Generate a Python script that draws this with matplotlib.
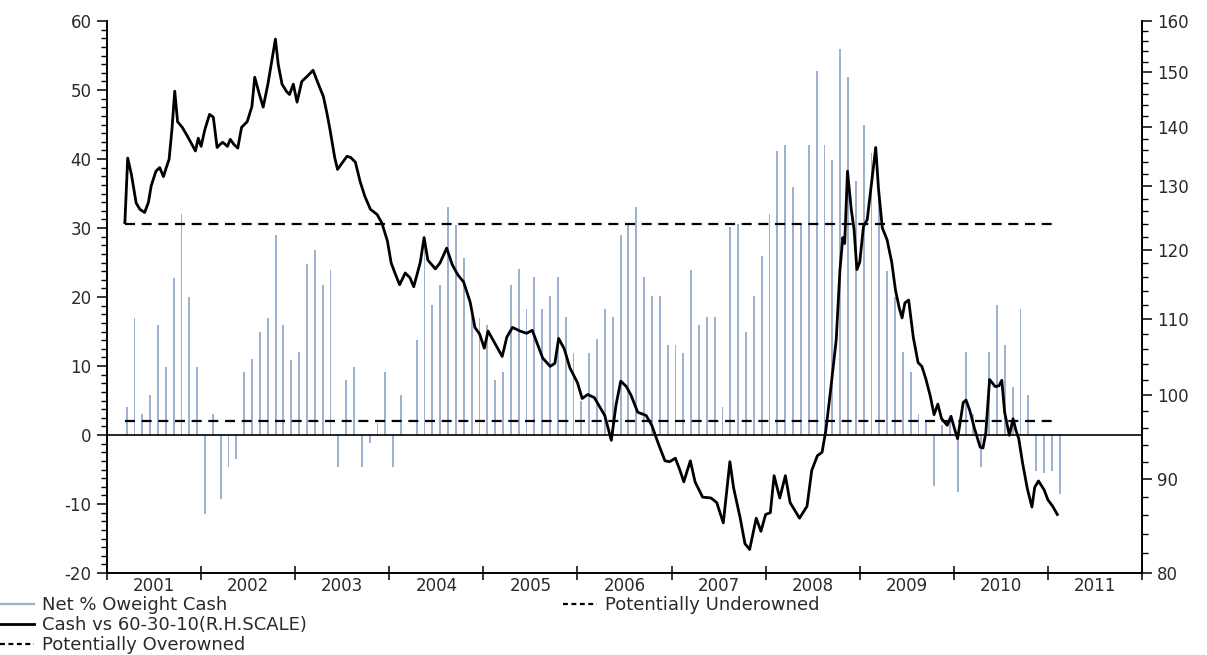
import matplotlib.pyplot as plt
import numpy as np
from matplotlib.lines import Line2D
from matplotlib.ticker import FixedLocator, FixedFormatter, NullFormatter, MultipleLocator

plt.rcParams['axes.unicode_minus'] = False

# Net % overweight cash, monthly from Mar 2001 to Feb 2011 (left scale)
owt_cash = [4.0, 16.9, 3.0, 5.8, 16.0, 9.9, 22.8, 32.0, 20.0, 9.9,
            -11.5, 3.0, -9.3, -4.6, -3.5, 9.2, 11.0, 15.0, 17.0, 29.0,
            16.0, 10.8, 12.0, 24.8, 26.8, 21.8, 23.9, -4.6, 8.0, 9.9,
            -4.6, -1.2, 1.7, 9.2, -4.6, 5.8, 0.0, 13.8, 28.6, 18.9,
            21.8, 33.0, 30.5, 25.7, 17.2, 17.0, 15.9, 8.0, 9.2, 21.8,
            24.0, 18.2, 22.9, 18.2, 20.1, 22.9, 17.1, 11.9, 5.0, 11.9,
            13.9, 18.2, 17.1, 29.0, 30.6, 33.0, 22.9, 20.1, 20.1, 13.1,
            13.1, 11.9, 23.9, 16.0, 17.1, 17.1, 4.1, 30.2, 30.6, 15.0,
            20.1, 25.9, 32.0, 41.1, 42.0, 36.0, 30.6, 42.0, 52.8, 42.0,
            39.8, 56.0, 51.9, 36.8, 44.9, 40.8, 34.0, 23.8, 20.0, 12.0,
            9.2, 3.0, 2.0, -7.4, 1.5, 2.0, -8.3, 12.0, 3.0, -4.6,
            12.0, 18.9, 13.1, 7.0, 18.2, 5.8, -5.2, -5.5, -5.2, -8.5]

# Cash vs 60-30-10 (right scale), decimal year / index value
cash_t = [2001.19, 2001.22, 2001.26, 2001.31, 2001.35, 2001.40, 2001.44, 2001.47, 2001.52, 2001.56,
          2001.60, 2001.63, 2001.66, 2001.69, 2001.72, 2001.75, 2001.80, 2001.85, 2001.89, 2001.94,
          2001.97, 2002.00, 2002.04, 2002.09, 2002.13, 2002.17, 2002.20, 2002.23, 2002.28, 2002.31,
          2002.35, 2002.39, 2002.43, 2002.49, 2002.54, 2002.57, 2002.62, 2002.66, 2002.71, 2002.75,
          2002.79, 2002.82, 2002.86, 2002.91, 2002.94, 2002.98, 2003.02, 2003.07, 2003.13, 2003.19,
          2003.24, 2003.30, 2003.34, 2003.37, 2003.42, 2003.45, 2003.51, 2003.55, 2003.59, 2003.64,
          2003.69, 2003.74, 2003.80, 2003.87, 2003.92, 2003.98, 2004.02, 2004.06, 2004.11, 2004.17,
          2004.22, 2004.26, 2004.33, 2004.37, 2004.41, 2004.49, 2004.54, 2004.61, 2004.67, 2004.73,
          2004.79, 2004.86, 2004.91, 2004.96, 2005.01, 2005.05, 2005.12, 2005.20, 2005.25, 2005.31,
          2005.39, 2005.46, 2005.52, 2005.57, 2005.63, 2005.71, 2005.76, 2005.80, 2005.86, 2005.92,
          2006.00, 2006.05, 2006.11, 2006.18, 2006.24, 2006.29, 2006.36, 2006.41, 2006.46, 2006.52,
          2006.57, 2006.64, 2006.73, 2006.79, 2006.86, 2006.93, 2006.98, 2007.04, 2007.09, 2007.13,
          2007.20, 2007.25, 2007.33, 2007.42, 2007.48, 2007.55, 2007.62, 2007.66, 2007.73, 2007.78,
          2007.83, 2007.90, 2007.95, 2008.00, 2008.05, 2008.09, 2008.15, 2008.21, 2008.26, 2008.36,
          2008.44, 2008.49, 2008.55, 2008.60, 2008.64, 2008.69, 2008.75, 2008.79, 2008.82, 2008.84,
          2008.87, 2008.91, 2008.94, 2008.97, 2009.00, 2009.04, 2009.08, 2009.13, 2009.17, 2009.20,
          2009.24, 2009.29, 2009.34, 2009.38, 2009.42, 2009.45, 2009.48, 2009.52, 2009.57, 2009.62,
          2009.66, 2009.70, 2009.75, 2009.79, 2009.83, 2009.87, 2009.93, 2009.97, 2010.02, 2010.04,
          2010.10, 2010.13, 2010.17, 2010.22, 2010.28, 2010.31, 2010.34, 2010.38, 2010.44, 2010.48,
          2010.51, 2010.54, 2010.59, 2010.63, 2010.66, 2010.69, 2010.73, 2010.78, 2010.83, 2010.86,
          2010.90, 2010.96, 2011.00, 2011.05, 2011.10]
cash_idx = [124.2, 134.7, 131.9, 127.3, 126.3, 125.8, 127.4, 130.1, 132.5, 133.1,
            131.6, 133.1, 134.5, 139.6, 146.5, 141.0, 140.0, 138.6, 137.4, 135.9,
            138.1, 136.7, 139.6, 142.3, 141.8, 136.5, 137.0, 137.4, 136.7, 137.9,
            137.0, 136.4, 140.0, 141.0, 143.7, 149.1, 145.9, 143.6, 147.8, 152.1,
            156.4, 151.5, 147.8, 146.4, 145.9, 147.8, 144.5, 148.3, 149.3, 150.4,
            148.1, 145.5, 142.3, 139.6, 134.8, 132.8, 134.1, 135.0, 134.8, 134.0,
            130.8, 128.4, 126.3, 125.5, 124.2, 121.4, 118.1, 116.6, 114.9, 116.6,
            115.9, 114.6, 118.2, 121.9, 118.5, 117.2, 118.1, 120.3, 117.8, 116.3,
            115.3, 112.4, 108.9, 108.0, 106.1, 108.4, 106.8, 105.0, 107.6, 108.9,
            108.4, 108.1, 108.5, 106.8, 104.8, 103.7, 104.1, 107.4, 106.0, 103.5,
            101.6, 99.6, 100.1, 99.7, 98.5, 97.5, 94.5, 98.8, 101.8, 101.1,
            100.0, 97.9, 97.5, 96.3, 94.1, 92.1, 92.0, 92.4, 91.0, 89.7,
            92.1, 89.7, 88.0, 87.9, 87.4, 85.2, 92.0, 89.0, 85.7, 83.0,
            82.4, 85.7, 84.3, 86.1, 86.3, 90.4, 87.9, 90.4, 87.4, 85.7,
            87.0, 91.0, 92.7, 93.1, 95.7, 100.6, 107.2, 117.1, 121.9, 121.0,
            132.5, 126.3, 123.1, 117.1, 118.2, 123.6, 124.7, 131.1, 136.5, 129.5,
            123.4, 121.6, 118.2, 114.1, 111.6, 110.2, 112.3, 112.7, 107.5, 104.2,
            103.7, 102.2, 99.9, 97.6, 98.9, 97.1, 96.3, 97.4, 95.4, 94.7,
            99.1, 99.4, 98.1, 95.9, 93.7, 93.6, 95.4, 102.0, 101.1, 101.2,
            101.9, 97.9, 95.1, 97.1, 95.7, 94.7, 91.9, 89.0, 86.9, 89.1,
            89.8, 88.8, 87.7, 87.0, 86.1]

over_level = 30.6
under_level = 2.1
band_start, band_end = 2001.19, 2011.07
years = list(range(2001, 2012))

bar_color = '#9db1d2'
txt_color = '#2a2a2a'

# bars sit at mid-month, first one in March 2001
bar_t = 2001 + (np.arange(len(owt_cash)) + 2.5) / 12

fig = plt.figure(figsize=(12.07, 6.55), dpi=100)
ax = fig.add_axes([107 / 1207, 82 / 655, 1035 / 1207, 552 / 655])
ax2 = ax.twinx()

ax.bar(bar_t, owt_cash, width=0.02, color=bar_color, linewidth=0, zorder=1)
ax.axhline(0, color='black', lw=1.2, zorder=2)
ax.hlines([over_level, under_level], band_start, band_end, colors='black',
          linestyles=(0, (4.5, 3)), lw=1.6, zorder=3)

ax2.plot(cash_t, cash_idx, color='black', lw=2.0)
ax2.set_yscale('log')
ax2.set_ylim(80, 160)

ax.set_xlim(2001, 2012)
ax.set_ylim(-20, 60)

# left axis
ax.yaxis.set_major_locator(MultipleLocator(10))
ax.yaxis.set_minor_locator(MultipleLocator(1.25))
# right axis, log scale
ax2.yaxis.set_major_locator(FixedLocator(list(range(80, 161, 10))))
ax2.yaxis.set_major_formatter(FixedFormatter([str(v) for v in range(80, 161, 10)]))
ax2.yaxis.set_minor_locator(FixedLocator([v for v in range(80, 161, 2) if v % 10]))
ax2.yaxis.set_minor_formatter(NullFormatter())

# x axis: ticks at year boundaries, labels in the middle of each year
ax.xaxis.set_major_locator(FixedLocator(years + [2012]))
ax.xaxis.set_major_formatter(NullFormatter())
ax.xaxis.set_minor_locator(FixedLocator([y + 0.5 for y in years]))
ax.xaxis.set_minor_formatter(FixedFormatter([str(y) for y in years]))

for a in (ax, ax2):
    a.spines['top'].set_visible(False)
    for s in a.spines.values():
        s.set_linewidth(1.2)
    a.tick_params(axis='y', which='major', direction='out', length=7, width=1.1,
                  labelsize=12, labelcolor=txt_color, pad=4)
    a.tick_params(axis='y', which='minor', direction='out', length=4, width=1.0)
ax.tick_params(axis='x', which='major', direction='inout', length=10, width=1.1)
ax.tick_params(axis='x', which='minor', length=0, labelsize=12, labelcolor=txt_color, pad=3)

h_bar = Line2D([], [], color=bar_color, lw=1.6)
h_line = Line2D([], [], color='black', lw=2.0)
h_dash = Line2D([], [], color='black', lw=1.6, linestyle=(0, (2.2, 1.6)))

leg_kw = dict(frameon=False, fontsize=13, handlelength=1.9, handletextpad=0.45,
              labelspacing=0.12, borderpad=0, borderaxespad=0, labelcolor=txt_color)
fig.legend([h_bar, h_line, h_dash],
           ['Net % Oweight Cash', 'Cash vs 60-30-10(R.H.SCALE)', 'Potentially Overowned'],
           loc='upper left', bbox_to_anchor=(0.0, 1 - 596 / 655), **leg_kw)
fig.legend([h_dash], ['Potentially Underowned'],
           loc='upper left', bbox_to_anchor=(563 / 1207, 1 - 596 / 655), **leg_kw)

fig.savefig('out.png', dpi=100)
